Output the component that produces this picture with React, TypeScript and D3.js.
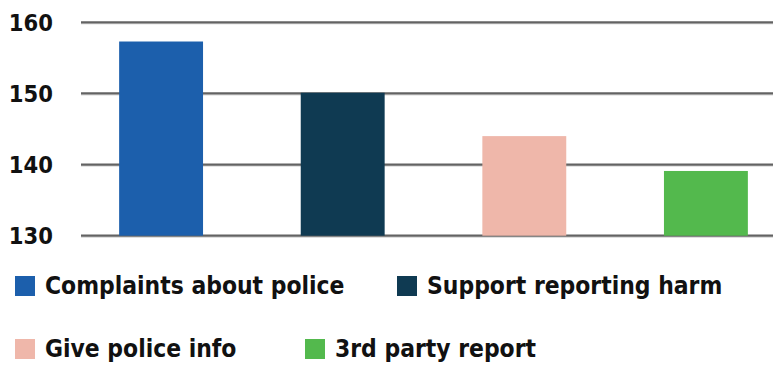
import React from "react";
import * as d3 from "d3";

const categories = ["Complaints about police", "Support reporting harm", "Give police info", "3rd party report"];
const values = [157.3, 150.1, 144.0, 139.1];
const colors = ["#1c5fac", "#0f3a52", "#efb7aa", "#53b94d"];
const yTicks = [130, 140, 150, 160];

const FONT = "'DejaVu Sans Condensed', 'DejaVu Sans', sans-serif";

export default function App() {
  const W = 780, H = 367;
  const y = d3.scaleLinear().domain([130, 160]).range([235.7, 22.3]);
  const x = d3.scaleBand<string>().domain(categories).range([81, 786]).paddingInner(0.538).paddingOuter(0.21);
  const legendPos = [
    { x: 15, y: 276 },
    { x: 397, y: 276 },
    { x: 15, y: 339 },
    { x: 305, y: 339 },
  ];
  return (
    <svg width={W} height={H} style={{ position: "absolute", left: 0, top: 0, background: "#fff" }}>
      {yTicks.map((t) => (
        <g key={t}>
          <line x1={81} x2={773} y1={y(t) + 1.5} y2={y(t) + 1.5} stroke="#cfcfcf" strokeWidth={1} />
          <line x1={81} x2={773} y1={y(t)} y2={y(t)} stroke="#636363" strokeWidth={2.2} />
          <text x={53} y={y(t) + 0.5} textAnchor="end" dominantBaseline="central" fontFamily={FONT} fontWeight="bold" fontSize={23.5} fill="#111">
            {t}
          </text>
        </g>
      ))}
      {categories.map((c, i) => (
        <rect key={c} x={x(c)} width={x.bandwidth()} y={y(values[i])} height={y(130) - y(values[i])} fill={colors[i]} />
      ))}
      {categories.map((c, i) => (
        <g key={"l" + c}>
          <rect x={legendPos[i].x} y={legendPos[i].y} width={20} height={20} fill={colors[i]} />
          <text x={legendPos[i].x + 30} y={legendPos[i].y + 17.5} fontFamily={FONT} fontWeight="bold" fontSize={24.4} fill="#111">
            {c}
          </text>
        </g>
      ))}
    </svg>
  );
}
